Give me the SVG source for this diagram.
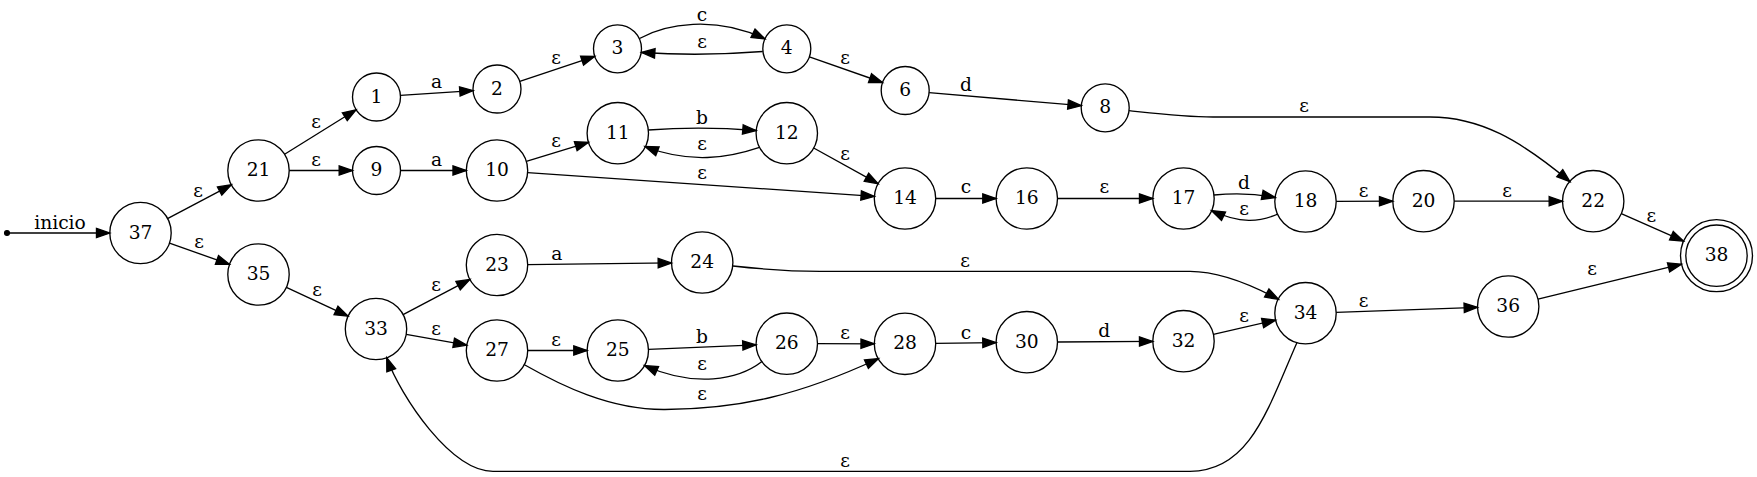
<svg xmlns="http://www.w3.org/2000/svg" width="1757" height="477" viewBox="0 0 1757 477">
<style>
text{font-family:"DejaVu Serif","Liberation Serif",serif;font-size:18.67px;text-anchor:middle;fill:#000}
.node circle{fill:none;stroke:#000;stroke-width:1.33}
.edges path{fill:none;stroke:#000;stroke-width:1.33;marker-end:url(#arr)}
</style>
<defs>
<marker id="arr" markerUnits="userSpaceOnUse" markerWidth="18" markerHeight="14" viewBox="-2 -2 18 14" refX="13.33" refY="4.67" orient="auto">
<path d="M0,0 L13.33,4.67 L0,9.33 Z" fill="#000" stroke="#000" stroke-width="1.33"/>
</marker>
</defs>
<rect width="1757" height="477" fill="#fff"/>
<g id="nodes">
<g id="start"><circle cx="7" cy="233" r="2.4" fill="#000" stroke="#000" stroke-width="1.33"/></g>
<g id="n37" class="node"><circle cx="140.5" cy="233" r="30.7"/><text x="140.5" y="238.6">37</text></g>
<g id="n21" class="node"><circle cx="258.5" cy="170.5" r="30.7"/><text x="258.5" y="176.1">21</text></g>
<g id="n35" class="node"><circle cx="258.5" cy="274.5" r="30.7"/><text x="258.5" y="280.1">35</text></g>
<g id="n1" class="node"><circle cx="376.5" cy="97" r="24"/><text x="376.5" y="102.6">1</text></g>
<g id="n9" class="node"><circle cx="376.5" cy="170.5" r="24"/><text x="376.5" y="176.1">9</text></g>
<g id="n33" class="node"><circle cx="376" cy="329" r="30.7"/><text x="376" y="334.6">33</text></g>
<g id="n2" class="node"><circle cx="497" cy="89" r="24"/><text x="497" y="94.6">2</text></g>
<g id="n10" class="node"><circle cx="497" cy="170.5" r="30.7"/><text x="497" y="176.1">10</text></g>
<g id="n23" class="node"><circle cx="497" cy="265" r="30.7"/><text x="497" y="270.6">23</text></g>
<g id="n27" class="node"><circle cx="497" cy="350.5" r="30.7"/><text x="497" y="356.1">27</text></g>
<g id="n3" class="node"><circle cx="617.5" cy="48.8" r="24"/><text x="617.5" y="54.4">3</text></g>
<g id="n11" class="node"><circle cx="617.8" cy="133.2" r="30.7"/><text x="617.8" y="138.8">11</text></g>
<g id="n25" class="node"><circle cx="617.8" cy="350.5" r="30.7"/><text x="617.8" y="356.1">25</text></g>
<g id="n24" class="node"><circle cx="702.2" cy="262.5" r="30.7"/><text x="702.2" y="268.1">24</text></g>
<g id="n4" class="node"><circle cx="786.8" cy="48.8" r="24"/><text x="786.8" y="54.4">4</text></g>
<g id="n12" class="node"><circle cx="786.8" cy="133.2" r="30.7"/><text x="786.8" y="138.8">12</text></g>
<g id="n26" class="node"><circle cx="786.8" cy="343.7" r="30.7"/><text x="786.8" y="349.3">26</text></g>
<g id="n6" class="node"><circle cx="905.2" cy="90.5" r="24"/><text x="905.2" y="96.1">6</text></g>
<g id="n14" class="node"><circle cx="905" cy="198.5" r="30.7"/><text x="905" y="204.1">14</text></g>
<g id="n28" class="node"><circle cx="905" cy="343.8" r="30.7"/><text x="905" y="349.4">28</text></g>
<g id="n16" class="node"><circle cx="1026.8" cy="198.5" r="30.7"/><text x="1026.8" y="204.1">16</text></g>
<g id="n30" class="node"><circle cx="1026.8" cy="342.2" r="30.7"/><text x="1026.8" y="347.8">30</text></g>
<g id="n8" class="node"><circle cx="1105.2" cy="107.8" r="24"/><text x="1105.2" y="113.4">8</text></g>
<g id="n17" class="node"><circle cx="1183.5" cy="198.5" r="30.7"/><text x="1183.5" y="204.1">17</text></g>
<g id="n32" class="node"><circle cx="1183.5" cy="341.2" r="30.7"/><text x="1183.5" y="346.8">32</text></g>
<g id="n18" class="node"><circle cx="1305.5" cy="201.5" r="30.7"/><text x="1305.5" y="207.1">18</text></g>
<g id="n34" class="node"><circle cx="1305.5" cy="313.2" r="30.7"/><text x="1305.5" y="318.8">34</text></g>
<g id="n20" class="node"><circle cx="1423.5" cy="201.2" r="30.7"/><text x="1423.5" y="206.8">20</text></g>
<g id="n36" class="node"><circle cx="1508.2" cy="306.5" r="30.7"/><text x="1508.2" y="312.1">36</text></g>
<g id="n22" class="node"><circle cx="1593.2" cy="201.2" r="30.7"/><text x="1593.2" y="206.8">22</text></g>
<g id="n38" class="node"><circle cx="1716.5" cy="255.7" r="30.7"/><circle cx="1716.5" cy="255.7" r="36"/><text x="1716.5" y="261.3">38</text></g>
</g>
<g id="edges" class="edges">
<g id="e_start"><path d="M9.4,233 L109.8,233"/><text x="60" y="229">inicio</text></g>
<g id="e37_21"><path d="M167.5,218.7 L231.4,184.8"/><text x="198" y="197">ε</text></g>
<g id="e37_35"><path d="M169.5,243.1 L229.5,264.4"/><text x="199" y="248">ε</text></g>
<g id="e21_1"><path d="M284.6,154.3 L356.1,109.7"/><text x="316" y="128">ε</text></g>
<g id="e21_9"><path d="M289.2,170.5 L352.5,170.5"/><text x="316" y="165.7">ε</text></g>
<g id="e35_33"><path d="M286.4,287.4 L348.1,316.1"/><text x="317" y="296.3">ε</text></g>
<g id="e1_2"><path d="M400.4,95.4 L473.1,90.6"/><text x="436.5" y="88.3">a</text></g>
<g id="e9_10"><path d="M400.5,170.5 L466.3,170.5"/><text x="436.5" y="165.7">a</text></g>
<g id="e33_23"><path d="M403.1,314.6 L469.9,279.4"/><text x="436" y="291">ε</text></g>
<g id="e33_27"><path d="M406.2,334.4 L466.8,345.1"/><text x="436" y="335">ε</text></g>
<g id="e2_3"><path d="M519.8,81.4 L594.7,56.4"/><text x="556" y="64.3">ε</text></g>
<g id="e3_4"><path d="M639.5,38.5 C665,24 715,15 765,39"/><text x="702" y="20.7">c</text></g>
<g id="e4_3"><path d="M762.8,51.5 C725,54.5 680,55 641.5,52.5"/><text x="702" y="48.3">ε</text></g>
<g id="e4_6"><path d="M809.4,56.8 L882.6,82.5"/><text x="845" y="64.3">ε</text></g>
<g id="e10_11"><path d="M526.3,161.4 L588.5,142.3"/><text x="556" y="147.3">ε</text></g>
<g id="e10_14"><path d="M527.6,172.6 L874.4,196.4"/><text x="702" y="179">ε</text></g>
<g id="e11_12"><path d="M648.3,130 C680,127.5 720,127.5 756.1,130.5"/><text x="702" y="124.3">b</text></g>
<g id="e12_11"><path d="M759.5,147.3 C728,158 690,164 645,146.5"/><text x="702" y="150">ε</text></g>
<g id="e12_14"><path d="M813.7,148 L878.1,183.7"/><text x="845" y="160">ε</text></g>
<g id="e23_24"><path d="M527.7,264.6 L671.5,262.9"/><text x="556.7" y="260.3">a</text></g>
<g id="e27_25"><path d="M527.7,350.5 L587.1,350.5"/><text x="556" y="346">ε</text></g>
<g id="e27_28"><path d="M524,364.5 C560,385 610,410 665,409.5 C740,409 800,395 878.5,358.5"/><text x="702" y="400.3">ε</text></g>
<g id="e25_26"><path d="M648.5,349.3 L756.1,344.9"/><text x="702" y="343">b</text></g>
<g id="e26_25"><path d="M762,361.5 C738,380 695,388 644.5,365.5"/><text x="702" y="369.7">ε</text></g>
<g id="e26_28"><path d="M817.5,343.7 L874.3,343.8"/><text x="845" y="339.3">ε</text></g>
<g id="e6_8"><path d="M929.1,92.6 L1081.3,105.7"/><text x="966" y="91">d</text></g>
<g id="e8_22"><path d="M1129,110.7 C1160,114 1185,117 1213,117 L1430,117 C1480,117 1520,140 1570,181.7"/><text x="1304" y="112.3">ε</text></g>
<g id="e14_16"><path d="M935.7,198.5 L996.1,198.5"/><text x="966" y="193.3">c</text></g>
<g id="e16_17"><path d="M1057.5,198.5 L1152.8,198.5"/><text x="1104.3" y="193.3">ε</text></g>
<g id="e17_18"><path d="M1214,195 C1235,193 1255,193.5 1275.3,197.5"/><text x="1244" y="189">d</text></g>
<g id="e18_17"><path d="M1278,214 C1260,222 1240,224 1211.5,210.5"/><text x="1244" y="215">ε</text></g>
<g id="e18_20"><path d="M1336.2,201.4 L1392.8,201.2"/><text x="1363.7" y="196.7">ε</text></g>
<g id="e20_22"><path d="M1454.2,201.2 L1562.5,201.2"/><text x="1507" y="196.7">ε</text></g>
<g id="e22_38"><path d="M1621.3,213.6 L1683.6,241.1"/><text x="1651.3" y="221.7">ε</text></g>
<g id="e24_34"><path d="M733,266 C760,269 785,271.3 820,271.3 L1190,271.3 C1220,271.3 1250,284 1278.5,299.3"/><text x="965" y="267">ε</text></g>
<g id="e28_30"><path d="M935.7,343.4 L996.1,342.6"/><text x="966" y="338.7">c</text></g>
<g id="e30_32"><path d="M1057.5,342 L1152.8,341.4"/><text x="1104.3" y="337">d</text></g>
<g id="e32_34"><path d="M1213.4,334.3 L1275.6,320.1"/><text x="1244" y="322">ε</text></g>
<g id="e34_36"><path d="M1336.2,312.3 L1477.5,307.3"/><text x="1363.7" y="307">ε</text></g>
<g id="e34_33"><path d="M1297,342.5 C1268,408.4 1250,471.3 1190,471.3 L493,471.3 C451,471.3 401,397.2 386.7,357.7"/><text x="845" y="467">ε</text></g>
<g id="e36_38"><path d="M1538,299.2 L1681.5,264.2"/><text x="1592" y="274.7">ε</text></g>
</g>
</svg>
